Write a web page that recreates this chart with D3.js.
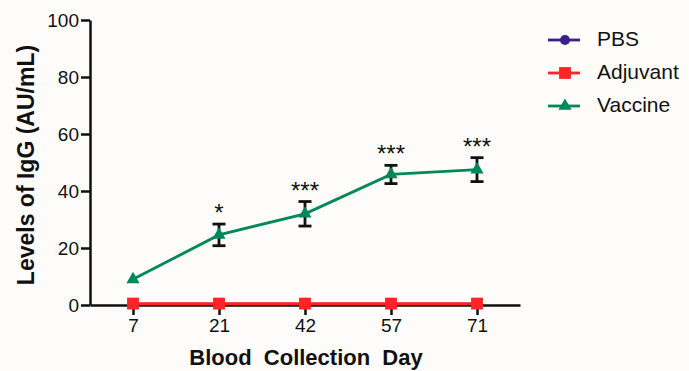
<!DOCTYPE html>
<html>
<head>
<meta charset="utf-8">
<script src="https://cdn.jsdelivr.net/npm/d3@7"></script>
<style>
  body { margin: 0; background: #fdfcfb; }
  svg { display: block; font-family: Arial, "Liberation Sans", sans-serif; }
</style>
</head>
<body>
<div id="chart"></div>
<script>
// data
const days = ["7", "21", "42", "57", "71"];
const pbs = [0.3, 0.3, 0.3, 0.3, 0.3];
const adjuvant = [0.5, 0.5, 0.5, 0.5, 0.5];
const vaccine = [9, 24.6, 32, 45.8, 47.5];
const vaccineErr = [0, 3.8, 4.3, 3.2, 4.2];
const stars = ["", "*", "***", "***", "***"];
const yTicks = [0, 20, 40, 60, 80, 100];
const seriesNames = ["PBS", "Adjuvant", "Vaccine"];
const seriesColors = ["#3d1f8c", "#ff2525", "#00875a"];

const W = 689, H = 371;
const svg = d3.select("#chart").append("svg")
  .attr("width", W)
  .attr("height", H);

svg.append("rect").attr("width", W).attr("height", H).attr("fill", "#fdfcfb");

const x = d3.scalePoint().domain(days).range([90, 520]).padding(0.5);
const y = d3.scaleLinear().domain([0, 100]).range([305, 20]);

// y axis
const yAxis = svg.append("g")
  .attr("transform", "translate(90,0)")
  .call(d3.axisLeft(y).tickValues(yTicks).tickSize(9).tickPadding(2).tickSizeOuter(0));
yAxis.select(".domain").attr("stroke", "#111").attr("stroke-width", 2.5);
yAxis.selectAll(".tick line").attr("stroke", "#111").attr("stroke-width", 2.5);
yAxis.selectAll(".tick text").attr("font-size", 19).attr("fill", "#111");

// x axis
const xAxis = svg.append("g")
  .attr("transform", "translate(0,305)")
  .call(d3.axisBottom(x).tickSize(10).tickPadding(4).tickSizeOuter(0));
xAxis.select(".domain").attr("stroke", "#111").attr("stroke-width", 2.5);
xAxis.selectAll(".tick line").attr("stroke", "#111").attr("stroke-width", 2.5);
xAxis.selectAll(".tick text").attr("font-size", 19).attr("fill", "#111");

// axis titles
svg.append("text")
  .attr("transform", "translate(34,165) rotate(-90)")
  .attr("text-anchor", "middle")
  .attr("font-size", 23)
  .attr("font-weight", 700)
  .attr("fill", "#111")
  .text("Levels of IgG (AU/mL)");

svg.append("text")
  .attr("x", 306)
  .attr("y", 365)
  .attr("text-anchor", "middle")
  .attr("font-size", 22)
  .attr("font-weight", 700)
  .attr("fill", "#111")
  .style("white-space", "pre")
  .text("Blood  Collection  Day");

const line = d3.line().x((d, i) => x(days[i])).y(d => y(d));
const tri = d3.symbol().type(d3.symbolTriangle).size(75);
const sq = d3.symbol().type(d3.symbolSquare).size(140);
const circ = d3.symbol().type(d3.symbolCircle).size(80);
const shapes = [circ, sq, tri];

// error bars for vaccine
vaccine.forEach((v, i) => {
  if (!vaccineErr[i]) return;
  const cx = x(days[i]);
  const g = svg.append("g").attr("stroke", "#111").attr("stroke-width", 2.8);
  g.append("line").attr("x1", cx).attr("x2", cx).attr("y1", y(v - vaccineErr[i])).attr("y2", y(v + vaccineErr[i]));
  g.append("line").attr("x1", cx - 6.5).attr("x2", cx + 6.5).attr("y1", y(v - vaccineErr[i])).attr("y2", y(v - vaccineErr[i]));
  g.append("line").attr("x1", cx - 6.5).attr("x2", cx + 6.5).attr("y1", y(v + vaccineErr[i])).attr("y2", y(v + vaccineErr[i]));
});

[pbs, adjuvant, vaccine].forEach((s, k) => {
  svg.append("path")
    .attr("d", line(s))
    .attr("fill", "none")
    .attr("stroke", seriesColors[k])
    .attr("stroke-width", 2.8);
  svg.selectAll(null).data(s).enter().append("path")
    .attr("d", shapes[k])
    .attr("transform", (d, i) => `translate(${x(days[i])},${y(d)})`)
    .attr("fill", seriesColors[k]);
});

// significance stars
svg.selectAll(".star").data(stars).enter().append("text")
  .attr("x", (d, i) => x(days[i]))
  .attr("y", (d, i) => y(vaccine[i] + vaccineErr[i]) - 3)
  .attr("text-anchor", "middle")
  .attr("font-size", 24)
  .attr("fill", "#111")
  .text(d => d);

// legend
const legend = svg.append("g");
seriesNames.forEach((name, k) => {
  const ly = 40 + k * 33;
  legend.append("line")
    .attr("x1", 548).attr("x2", 580).attr("y1", ly).attr("y2", ly)
    .attr("stroke", seriesColors[k]).attr("stroke-width", 2.8);
  legend.append("path")
    .attr("d", shapes[k])
    .attr("transform", `translate(565,${ly})`)
    .attr("fill", seriesColors[k]);
  legend.append("text")
    .attr("x", 597).attr("y", ly + 6)
    .attr("font-size", 21)
    .attr("fill", "#111")
    .text(name);
});
</script>
</body>
</html>
